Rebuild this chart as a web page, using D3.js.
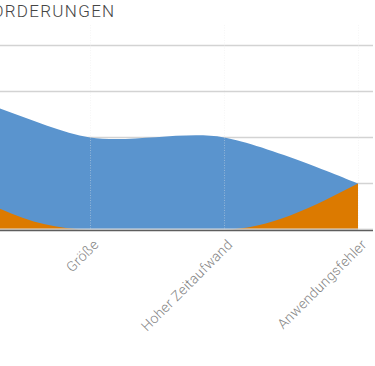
<!DOCTYPE html>
<html>
<head>
<meta charset="utf-8">
<script src="https://cdn.jsdelivr.net/npm/d3@7"></script>
<style>
  html, body { margin: 0; padding: 0; background: #fff; overflow: hidden; }
  svg { display: block; }
</style>
</head>
<body>
<script>
// ---- data (the chart is cropped on the left; the first two categories lie outside the window) ----
const categoryIds = ["k1", "k2", "k3", "k4", "k5"];
const categoryLabels = ["", "", "Größe", "Hoher Zeitaufwand", "Anwendungsfehler"];
const seriesBlue = [3, 2.9, 2, 2, 1];
const seriesOrange = [4, 1, 0, 0, 1];
const yTicks = [0, 1, 2, 3, 4];
const title = "HERAUSFORDERUNGEN";

// ---- layout ----
const W = 375, H = 366;
const plot = { left: -200, right: 373, top: 25, bottom: 229.5 };
const FONT = "Roboto, 'Liberation Sans', sans-serif";

const svg = d3.select("body").append("svg").attr("width", W).attr("height", H);

const x = d3.scalePoint().domain(categoryIds).range([-178, 358]);
const y = d3.scaleLinear().domain([0, 4]).range([229.5, 45.3]);

svg.append("defs").append("clipPath").attr("id", "plotclip")
  .append("rect").attr("x", plot.left).attr("y", plot.top)
  .attr("width", plot.right - plot.left).attr("height", plot.bottom - plot.top);

// horizontal grid lines
svg.append("g").selectAll("line").data(yTicks.filter(d => d > 0)).join("line")
  .attr("x1", plot.left).attr("x2", plot.right)
  .attr("y1", d => Math.round(y(d)) + 0.5).attr("y2", d => Math.round(y(d)) + 0.5)
  .attr("stroke", "#d3d3d3").attr("stroke-width", 1.3);

const gAreas = svg.append("g").attr("clip-path", "url(#plotclip)");

const areaBlue = d3.area()
  .x((d, i) => x(categoryIds[i])).y0(y(0)).y1(d => y(d))
  .curve(d3.curveCardinal.tension(0.1));
const areaOrange = d3.area()
  .x((d, i) => x(categoryIds[i])).y0(y(0)).y1(d => y(d))
  .curve(d3.curveMonotoneX);

gAreas.append("path").datum(seriesBlue).attr("d", areaBlue).attr("fill", "#5a94ce");
gAreas.append("path").datum(seriesOrange).attr("d", areaOrange).attr("fill", "#dc7a00");

// vertical dotted grid lines (drawn over the areas)
svg.append("g").selectAll("line").data(categoryIds).join("line")
  .attr("x1", d => Math.round(x(d)) + 0.5).attr("x2", d => Math.round(x(d)) + 0.5)
  .attr("y1", plot.top).attr("y2", plot.bottom - 1)
  .attr("stroke", "#e8e8e8").attr("stroke-opacity", 0.4)
  .attr("stroke-width", 1).attr("stroke-dasharray", "1,1.5");

// zero line + axis line
svg.append("line").attr("x1", plot.left).attr("x2", plot.right)
  .attr("y1", 229).attr("y2", 229).attr("stroke", "#dedede").attr("stroke-width", 1);

const xAxis = d3.axisBottom(x).tickSize(0).tickFormat((d, i) => categoryLabels[i]);
const gx = svg.append("g").attr("transform", `translate(0,${230.5})`).call(xAxis);
gx.select(".domain").attr("stroke", "#5e5e5e").attr("stroke-width", 1.6)
  .attr("d", `M${plot.left},0H${plot.right}`);
gx.selectAll("text")
  .attr("font-family", FONT)
  .attr("font-weight", 300)
  .attr("font-size", 14)
  .attr("letter-spacing", 0.3)
  .attr("fill", "#858585")
  .attr("text-anchor", "end")
  .attr("dy", null).attr("y", 0)
  .attr("transform", "translate(9,15) rotate(-45)");

// title (its beginning lies outside the cropped window, as in the reference)
svg.append("text")
  .attr("x", 115.5).attr("y", 16.5)
  .attr("text-anchor", "end")
  .attr("font-family", FONT)
  .attr("font-weight", 300)
  .attr("font-size", 17)
  .attr("letter-spacing", 1.3)
  .attr("fill", "#454545")
  .text(title);
</script>
</body>
</html>
